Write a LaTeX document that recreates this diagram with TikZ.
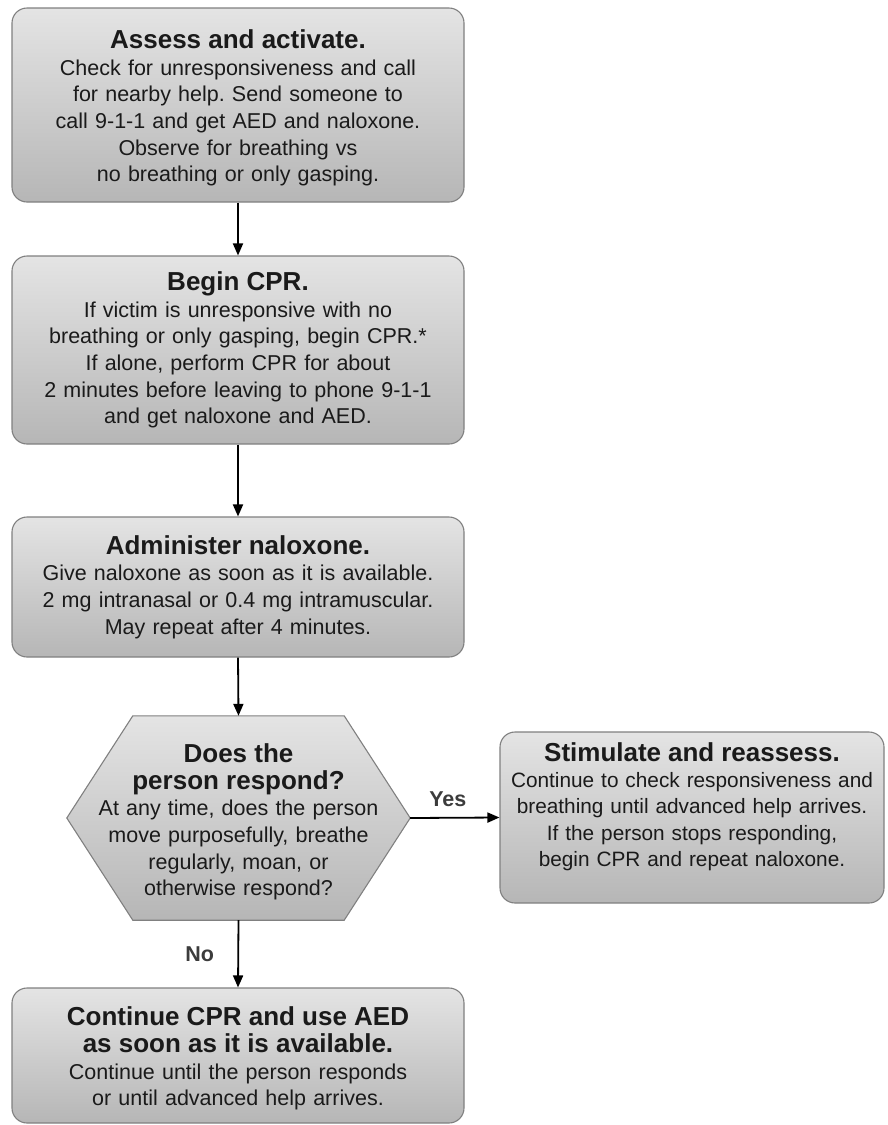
\documentclass[tikz,border=0pt]{standalone}
\usepackage{fontspec}
\setmainfont{Liberation Sans}
\usetikzlibrary{arrows.meta,calc}
\definecolor{boxtop}{HTML}{E4E4E4}
\definecolor{boxbot}{HTML}{B6B6B6}
\definecolor{boxline}{HTML}{808080}
\definecolor{txt}{HTML}{1A1A1A}
\definecolor{lbl}{HTML}{3C3C3C}
\newcommand{\ttl}[1]{{\fontsize{26}{26.6}\selectfont\bfseries #1}}
\begin{document}
\frenchspacing
\begin{tikzpicture}[x=1pt,y=-1pt,
  stepbox/.style={draw=boxline, line width=1.1pt, rounded corners=15pt,
    top color=boxtop, bottom color=boxbot, text=txt, align=center,
    font=\fontsize{21.5}{26.6}\selectfont, inner sep=0pt},
  bodytext/.style={text=txt, align=center, font=\fontsize{21.5}{26.6}\selectfont, inner sep=0pt},
  hexshape/.style={draw=boxline, line width=1.1pt, top color=boxtop, bottom color=boxbot},
  flow/.style={line width=1.8pt, -{Triangle[length=12pt,width=10pt]}},
  lab/.style={font=\fontsize{21.5}{24}\selectfont\bfseries, text=lbl}]
\useasboundingbox (0,0) rectangle (888,1125);

\node[stepbox, minimum width=452pt, minimum height=194pt, text width=450pt, text height=25pt] (a) at (238,105)
 {\ttl{Assess and activate.}\\ Check for unresponsiveness and call\\ for nearby help. Send someone to\\ call 9-1-1 and get AED and naloxone.\\ Observe for breathing vs\\ no breathing or only gasping.};

\node[stepbox, minimum width=452pt, minimum height=188pt, text width=450pt] (b) at (238,350)
 {\ttl{Begin CPR.}\\ If victim is unresponsive with no\\ breathing or only gasping, begin CPR.*\\ If alone, perform CPR for about\\ 2 minutes before leaving to phone 9-1-1\\ and get naloxone and AED.};

\node[stepbox, minimum width=452pt, minimum height=140pt, text width=450pt] (c) at (238,587)
 {\ttl{Administer naloxone.}\\ Give naloxone as soon as it is available.\\ 2 mg intranasal or 0.4 mg intramuscular.\\ May repeat after 4 minutes.};

\node[minimum width=343pt, minimum height=204pt, inner sep=0pt] (q) at (238.5,818) {};
\path[hexshape] (q.west) -- ([xshift=66pt]q.north west) -- ([xshift=-66pt]q.north east)
  -- (q.east) -- ([xshift=-66pt]q.south east) -- ([xshift=66pt]q.south west) -- cycle;
\node[bodytext, text width=320pt] (qt) at ([yshift=-4pt]q.center)
 {\ttl{Does the}\\ \ttl{person respond?}\\ At any time, does the person\\ move purposefully, breathe\\ regularly, moan, or\\ otherwise respond?};

\node[stepbox, minimum width=384pt, minimum height=171pt] (r) at (692,817.5) {};
\node[bodytext, text width=382pt, font=\fontsize{20.8}{26.3}\selectfont] (rt) at ([yshift=11pt]r.center)
 {\ttl{Stimulate and reassess.}\\ Continue to check responsiveness and\\ breathing until advanced help arrives.\\ If the person stops responding,\\ begin CPR and repeat naloxone.};

\node[stepbox, minimum width=452pt, minimum height=135pt, text width=450pt, text height=25pt] (e) at (238,1055.5)
 {\ttl{Continue CPR and use AED}\\ \ttl{as soon as it is available.}\\ Continue until the person responds\\ or until advanced help arrives.};

\draw[flow] (a.south) -- (b.north);
\draw[flow] (b.south) -- (c.north);
\draw[flow] (c.south) -- (q.north);
\draw[flow] (q.east) -- (r.west) node[lab, midway, above=7pt, xshift=-7pt] (yes) {Yes};
\draw[flow] (q.south) -- (e.north) node[lab, midway, left=20pt] (no) {No};
\end{tikzpicture}
\end{document}
